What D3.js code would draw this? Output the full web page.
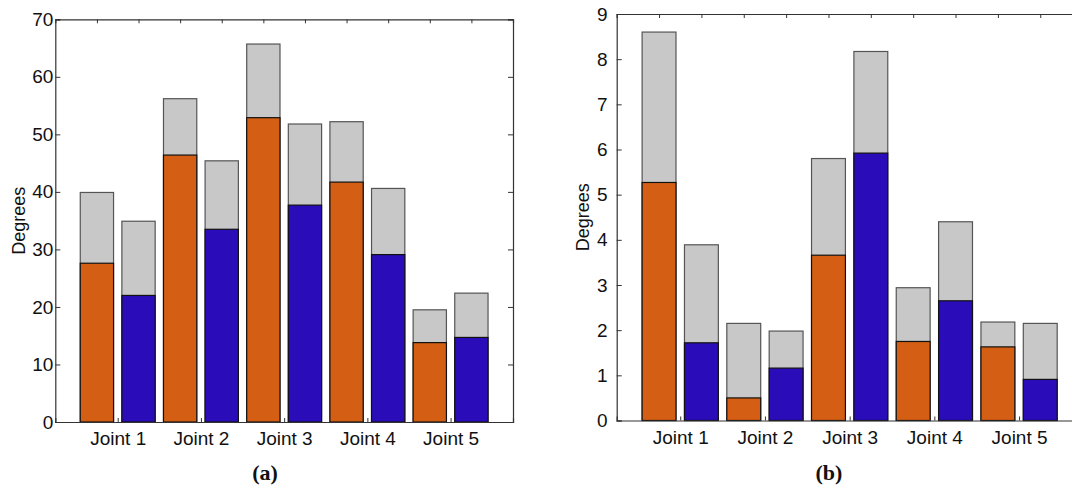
<!DOCTYPE html>
<html>
<head>
<meta charset="utf-8">
<script src="https://cdn.jsdelivr.net/npm/d3@7"></script>
<style>
  body { margin: 0; background: #fff; }
  svg { display: block; }
  .tick text { font-family: "Liberation Sans", Arial, sans-serif; font-size: 19px; fill: #111; }
</style>
</head>
<body>
<div id="chart"></div>
<script>
// Figure size
var w = 1072;
var h = 488;

// Categories
var joints = ["Joint 1", "Joint 2", "Joint 3", "Joint 4", "Joint 5"];

// Panel (a) values, degrees (lower part and total height of each stacked bar)
var aOrange    = [27.6, 46.4, 52.9, 41.7, 13.8];
var aOrangeTop = [39.9, 56.2, 65.7, 52.2, 19.5];
var aBlue      = [22.0, 33.5, 37.7, 29.1, 14.7];
var aBlueTop   = [34.9, 45.4, 51.8, 40.6, 22.4];
var aTicks     = [0, 10, 20, 30, 40, 50, 60, 70];

// Panel (b) values, degrees
var bOrange    = [5.27, 0.50, 3.66, 1.75, 1.63];
var bOrangeTop = [8.60, 2.15, 5.80, 2.94, 2.18];
var bBlue      = [1.72, 1.16, 5.92, 2.65, 0.91];
var bBlueTop   = [3.89, 1.98, 8.17, 4.40, 2.15];
var bTicks     = [0, 1, 2, 3, 4, 5, 6, 7, 8, 9];

var orange = "#d45f14";
var blue = "#2a0db8";
var grey = "#c8c8c8";

var svg = d3.select("#chart")
    .append("svg")
    .attr("width", w)
    .attr("height", h);

// draw one panel
function panel(opt) {
    var x = d3.scaleLinear().domain([0.25, 5.75]).range([opt.left, opt.right]);
    var y = d3.scaleLinear().domain([0, opt.max]).range([opt.bottom, opt.top]);
    var g = svg.append("g");
    var bw = x(0.4) - x(0); // bar width

    // one entry per bar: group index, offset, lower value, total value, colour
    var bars = [];
    joints.forEach(function(j, i) {
        bars.push({ pos: i + 1 - 0.25, low: opt.orange[i], top: opt.orangeTop[i], fill: orange });
        bars.push({ pos: i + 1 + 0.25, low: opt.blue[i], top: opt.blueTop[i], fill: blue });
    });

    // grey totals behind
    g.selectAll("rect.total")
        .data(bars)
        .enter()
        .append("rect")
        .attr("class", "total")
        .attr("x", function(d) { return x(d.pos) - bw / 2; })
        .attr("y", function(d) { return y(d.top); })
        .attr("width", bw)
        .attr("height", function(d) { return y(0) - y(d.top); })
        .style("fill", grey)
        .style("stroke", "#555")
        .style("stroke-width", 1.2);

    // coloured part on top
    g.selectAll("rect.part")
        .data(bars)
        .enter()
        .append("rect")
        .attr("class", "part")
        .attr("x", function(d) { return x(d.pos) - bw / 2; })
        .attr("y", function(d) { return y(d.low); })
        .attr("width", bw)
        .attr("height", function(d) { return y(0) - y(d.low); })
        .style("fill", function(d) { return d.fill; })
        .style("stroke", "#111")
        .style("stroke-width", 1.2);

    // left axis, ticks inward
    var yAxis = g.append("g")
        .attr("transform", "translate(" + opt.left + ",0)")
        .call(d3.axisLeft(y).tickValues(opt.ticks).tickSize(-5).tickPadding(opt.pad));
    // bottom axis with joint names
    var xAxis = g.append("g")
        .attr("transform", "translate(0," + opt.bottom + ")")
        .call(d3.axisBottom(x).tickValues([1, 2, 3, 4, 5]).tickSize(-4).tickPadding(10)
            .tickFormat(function(d) { return joints[d - 1]; }));
    // top ticks at every bar centre
    var topAxis = g.append("g")
        .attr("transform", "translate(0," + opt.top + ")")
        .call(d3.axisTop(x).tickValues(bars.map(function(d) { return d.pos; })).tickSize(-4).tickFormat(""));
    // right side ticks
    var rightAxis = g.append("g")
        .attr("transform", "translate(" + opt.right + ",0)")
        .call(d3.axisRight(y).tickValues(opt.ticks).tickSize(-5).tickFormat(""));

    [yAxis, xAxis, topAxis, rightAxis].forEach(function(a) {
        a.select(".domain").attr("stroke", "#333").attr("stroke-width", 1.2);
        a.selectAll(".tick line").attr("stroke", "#333").attr("stroke-width", 1);
    });

    // y label
    g.append("text")
        .attr("transform", "translate(" + opt.labelX + "," + (opt.top + opt.bottom) / 2 + ") rotate(-90)")
        .attr("text-anchor", "middle")
        .style("font-family", "Liberation Sans, Arial, sans-serif")
        .style("font-size", "18px")
        .style("fill", "#111")
        .text("Degrees");

    // caption
    g.append("text")
        .attr("x", opt.capX)
        .attr("y", 480)
        .attr("text-anchor", "middle")
        .style("font-family", "Liberation Serif, serif")
        .style("font-weight", "bold")
        .style("font-size", "22px")
        .style("fill", "#111")
        .text(opt.caption);
}

panel({ left: 55.3, right: 513, top: 19.3, bottom: 422, max: 70, ticks: aTicks, pad: 2,
        orange: aOrange, orangeTop: aOrangeTop, blue: aBlue, blueTop: aBlueTop,
        labelX: 25, capX: 265, caption: "(a)" });

panel({ left: 616.7, right: 1082.6, top: 14, bottom: 420.5, max: 9, ticks: bTicks, pad: 9,
        orange: bOrange, orangeTop: bOrangeTop, blue: bBlue, blueTop: bBlueTop,
        labelX: 589, capX: 829, caption: "(b)" });
</script>
</body>
</html>
